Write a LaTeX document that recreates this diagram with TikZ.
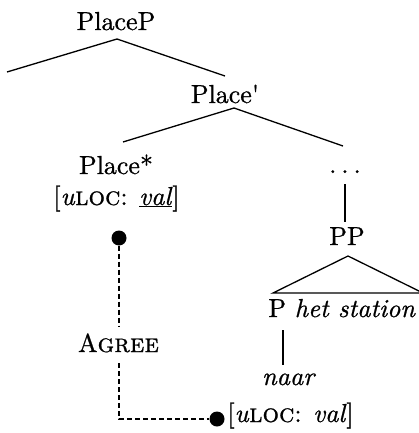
\documentclass[tikz,border=0pt]{standalone}
\usepackage{fontspec}
\setmainfont{lmroman10-regular}[Extension=.otf,
  RawFeature={embolden=0.8},
  ItalicFont=lmroman10-italic,
  SmallCapsFont=lmromancaps10-regular]
\begin{document}
\begin{tikzpicture}[x=1pt,y=-1pt,
  lbl/.style={inner sep=0pt,anchor=base,font=\fontsize{26}{30}\selectfont},
  branch/.style={line width=1.3pt},
  agreeline/.style={line width=1.3pt,dash pattern=on 5pt off 3pt},
  dot/.style={circle,fill=black,inner sep=0pt,minimum size=15pt}]
\useasboundingbox (0,0) rectangle (418,433);
% labels
\node[lbl] (placep) at (116,30) {PlaceP};
\node[lbl] (placebar) at (225,103) {Place\textquotesingle};
\node[lbl] (placestar) at (116,174) {Place*};
\node[lbl] (feat1) at (116.5,205) {[\textit{u}\textsc{loc}: \underline{\textit{val}}]};
\node[lbl] (dots) at (345,173) {.\hspace{5pt}.\hspace{5pt}.};
\node[lbl] (pp) at (347,245) {PP};
\node[lbl] (pnode) at (342,317) {P \textit{het station}};
\node[lbl] (naar) at (289,385) {\textit{naar}};
\node[lbl] (agree) at (118.5,352) {A\textsc{gree}};
\node[lbl] (feat2) at (290.5,422) {[\textit{u}\textsc{loc}: \textit{val}]};
% coordinates for branch ends
\coordinate (a0) at (117,39);
\coordinate (a1) at (7,72);
\coordinate (a2) at (225,76);
\coordinate (b0) at (234,108);
\coordinate (b1) at (123,142);
\coordinate (b2) at (343,146);
\coordinate (c0) at (345,184);
\coordinate (c1) at (345,222);
\coordinate (t0) at (348,256);
\coordinate (t1) at (273,293);
\coordinate (t2) at (423,293);
\coordinate (p0) at (283,330);
\coordinate (p1) at (283,365);
% tree
\draw[branch] (a1) -- (a0) -- (a2);
\draw[branch] (b1) -- (b0) -- (b2);
\draw[branch] (c0) -- (c1);
\draw[branch] (t1) -- (t0) -- (t2) -- cycle;
\draw[branch] (p0) -- (p1);
% agree
\node[dot] (d1) at (119,238) {};
\node[dot] (d2) at (217,419) {};
\coordinate (g1) at (119,327);
\coordinate (g2) at (119,363);
\coordinate (corner) at (119,419);
\draw[agreeline] (d1) -- (g1);
\draw[agreeline] (g2) -- (corner) -- (d2);
\end{tikzpicture}
\end{document}
